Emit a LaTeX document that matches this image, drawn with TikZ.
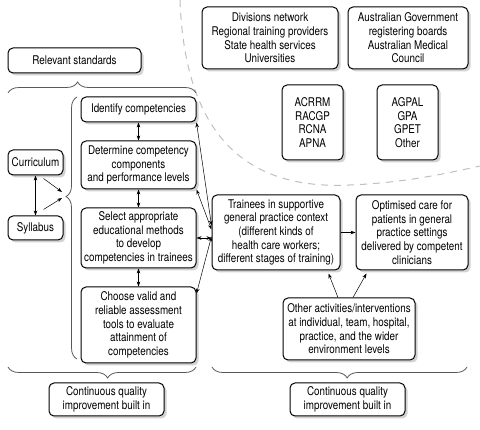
\documentclass[tikz,border=0pt]{standalone}
\usepackage{fontspec}
\setmainfont{TeX Gyre Heros}[FakeStretch=0.82]
\usetikzlibrary{arrows.meta,positioning,shadows,decorations.pathreplacing,calc}
\tikzset{
  box/.style={rectangle, rounded corners=5pt, draw=black, fill=white, line width=1pt,
              align=center, inner xsep=3pt, inner ysep=2pt, font=\fontsize{12}{13.6}\selectfont,
              drop shadow={shadow xshift=2.5pt, shadow yshift=-2.5pt, fill=black!35}},
  flow/.style={-{Stealth[length=5pt,width=3.6pt]}, draw=black, line width=0.5pt},
  dflow/.style={{Stealth[length=5pt,width=3.6pt]}-{Stealth[length=5pt,width=3.6pt]}, draw=black, line width=0.5pt},
  brc/.style={decorate, decoration={brace, amplitude=11pt, #1}, draw=black!65, line width=0.8pt},
  zone/.style={draw=black!25, line width=1pt, dash pattern=on 7pt off 6pt}
}
\begin{document}
\begin{tikzpicture}[x=1pt, y=-1pt, node distance=18pt]
 \useasboundingbox (0,0) rectangle (480,430);
 % boundary of the outside bodies
 \draw[zone] (180,0) .. controls (185,140) and (250,190) .. (350,185) .. controls (400,183) and (440,175) .. (480,166);

 \draw[brc={aspect=0.37}] (8,93) -- (196,93);
 \draw[brc={aspect=0.62}] (77,359) -- (77,97);
 \draw[brc={aspect=0.47}] (196,367) -- (8,367);
 \draw[brc={aspect=0.47}] (467,367) -- (212,367);

 \node[box, minimum width=133pt, minimum height=25pt] (std) at (74.5,60.5) {Relevant standards};
 \node[box, minimum width=55pt, minimum height=25pt] (cur) at (35.5,162.5) {Curriculum};
 \node[box, minimum width=55pt, minimum height=24pt] (syl) at (35.5,228) {Syllabus};

 \node[box, minimum width=115pt, minimum height=25pt] (id) at (138.5,109.5) {Identify competencies};
 \node[box, minimum width=115pt, minimum height=48pt, below=of id] (det) {Determine competency\\components\\and performance levels};
 \node[box, minimum width=115pt, minimum height=60pt, below=of det] (sel) {Select appropriate\\educational methods\\to develop\\competencies in trainees};
 \node[box, minimum width=115pt, minimum height=76pt, below=of sel] (cho) {Choose valid and\\reliable assessment\\tools to evaluate\\attainment of\\competencies};

 \node[box, minimum width=115pt, minimum height=33pt] (cq1) at (106.5,399.5) {Continuous quality\\improvement built in};
 \node[box, minimum width=115pt, minimum height=33pt] (cq2) at (347.5,399.5) {Continuous quality\\improvement built in};

 \node[box, minimum width=128pt, minimum height=75pt] (tr) at (276,232.5) {Trainees in supportive\\general practice context\\(different kinds of\\health care workers;\\different stages of training)};
 \node[box, minimum width=112pt, minimum height=75pt, right=15pt of tr] (opt) {Optimised care for\\patients in general\\practice settings\\delivered by competent\\clinicians};
 \node[box, minimum width=132pt, minimum height=62pt] (oth) at (349,329) {Other activities/interventions\\at individual, team, hospital,\\practice, and the wider\\environment levels};

 \node[box, minimum width=136pt, minimum height=62pt] (div) at (270,38) {Divisions network\\Regional training providers\\State health services\\Universities};
 \node[box, minimum width=120pt, minimum height=62pt, right=9pt of div] (gov) {Australian Government\\registering boards\\Australian Medical\\Council};
 \node[box, minimum width=61pt, minimum height=75pt] (col) at (312.5,122.5) {ACRRM\\RACGP\\RCNA\\APNA};
 \node[box, minimum width=61pt, minimum height=75pt] (acc) at (407.5,122.5) {AGPAL\\GPA\\GPET\\Other};

 \coordinate (tipA) at (62,192);
 \coordinate (tipB) at (62,198);
 \draw[dflow] (cur) -- (syl);
 \draw[flow] ([xshift=8pt,yshift=-3pt]cur.south) -- (tipA);
 \draw[flow] ([xshift=8pt,yshift=6pt]syl.north) -- (tipB);

 \draw[dflow] (id) -- (det);\draw[dflow] (det) -- (sel);\draw[dflow] (sel) -- (cho);

 \draw[dflow] (id.south east) -- ([yshift=7pt]tr.west);
 \draw[dflow] (det.south east) -- ([yshift=3pt]tr.west);
 \draw[dflow] (sel.east) -- (sel.east -| tr.west);
 \draw[dflow] ([yshift=-7pt]cho.north east) -- ([yshift=-4pt]tr.west);

 \draw[flow] (tr) -- (opt);
 \draw[flow] ([xshift=-11pt]oth.north) -- ([xshift=-12pt,yshift=-3pt]tr.south east);
 \draw[flow] ([xshift=4pt]oth.north) -- ([xshift=11pt,yshift=-3pt]opt.south west);
\end{tikzpicture}
\end{document}
